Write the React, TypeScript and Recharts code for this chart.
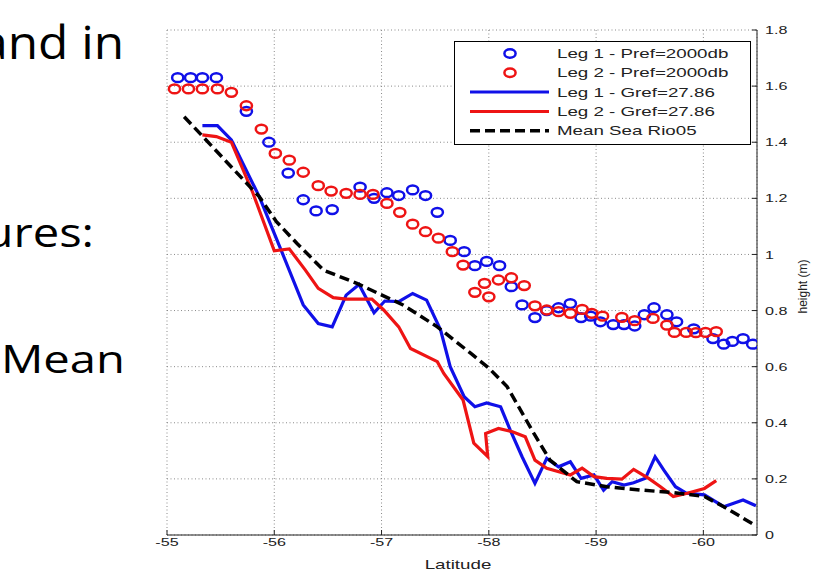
import React from 'react';
import { ComposedChart, Scatter, Line, XAxis, YAxis, CartesianGrid, Legend } from 'recharts';

const xTicks = [-55, -56, -57, -58, -59, -60];
const yTicks = [0, 0.2, 0.4, 0.6, 0.8, 1, 1.2, 1.4, 1.6, 1.8];

const leg1PrefLat = [-55.10, -55.22, -55.33, -55.46, -55.74, -55.95, -56.13, -56.27, -56.39, -56.54, -56.80, -56.93, -57.05, -57.16, -57.29, -57.41, -57.52, -57.64, -57.77, -57.87, -57.98, -58.10, -58.21, -58.31, -58.43, -58.54, -58.65, -58.76, -58.86, -58.95, -59.04, -59.16, -59.26, -59.36, -59.45, -59.54, -59.66, -59.75, -59.91, -60.09, -60.19, -60.27, -60.37, -60.46];
const leg1PrefHeight = [1.63, 1.63, 1.63, 1.63, 1.51, 1.40, 1.29, 1.195, 1.155, 1.16, 1.24, 1.20, 1.22, 1.21, 1.23, 1.21, 1.15, 1.05, 1.01, 0.96, 0.975, 0.96, 0.885, 0.82, 0.775, 0.80, 0.81, 0.825, 0.775, 0.78, 0.76, 0.75, 0.75, 0.745, 0.785, 0.81, 0.785, 0.76, 0.735, 0.70, 0.68, 0.69, 0.70, 0.68];

const leg2PrefLat = [-55.07, -55.20, -55.33, -55.47, -55.60, -55.74, -55.88, -56.01, -56.14, -56.27, -56.41, -56.53, -56.67, -56.80, -56.92, -57.05, -57.17, -57.29, -57.41, -57.53, -57.66, -57.76, -57.87, -57.96, -58.00, -58.09, -58.21, -58.33, -58.43, -58.54, -58.65, -58.76, -58.87, -58.96, -59.06, -59.24, -59.36, -59.53, -59.66, -59.73, -59.84, -59.93, -60.02, -60.12];
const leg2PrefHeight = [1.59, 1.59, 1.59, 1.59, 1.578, 1.53, 1.447, 1.36, 1.336, 1.293, 1.245, 1.226, 1.218, 1.214, 1.214, 1.182, 1.15, 1.108, 1.081, 1.058, 1.01, 0.962, 0.865, 0.897, 0.849, 0.909, 0.917, 0.889, 0.817, 0.802, 0.796, 0.79, 0.804, 0.79, 0.78, 0.776, 0.764, 0.772, 0.748, 0.722, 0.722, 0.721, 0.722, 0.725];

const leg1GrefLat = [-55.33, -55.47, -55.60, -55.86, -56.08, -56.27, -56.41, -56.54, -56.67, -56.79, -56.93, -57.03, -57.16, -57.29, -57.42, -57.55, -57.64, -57.77, -57.87, -57.98, -58.11, -58.20, -58.31, -58.43, -58.54, -58.65, -58.76, -58.86, -58.98, -59.07, -59.15, -59.26, -59.35, -59.46, -59.55, -59.63, -59.74, -59.84, -60.01, -60.19, -60.37, -60.49];
const leg1GrefHeight = [1.459, 1.459, 1.408, 1.206, 1.0, 0.82, 0.754, 0.742, 0.855, 0.893, 0.792, 0.834, 0.832, 0.861, 0.837, 0.731, 0.60, 0.493, 0.457, 0.471, 0.457, 0.374, 0.279, 0.184, 0.273, 0.243, 0.261, 0.202, 0.214, 0.16, 0.19, 0.178, 0.186, 0.202, 0.279, 0.232, 0.172, 0.149, 0.143, 0.101, 0.125, 0.104];

const leg2GrefLat = [-55.33, -55.46, -55.60, -55.80, -56.00, -56.14, -56.29, -56.41, -56.55, -56.67, -56.91, -57.02, -57.16, -57.27, -57.52, -57.58, -57.76, -57.86, -57.99, -57.97, -58.09, -58.22, -58.34, -58.43, -58.54, -58.76, -58.87, -58.98, -59.10, -59.24, -59.35, -59.49, -59.60, -59.72, -59.85, -60.01, -60.12];
const leg2GrefHeight = [1.426, 1.42, 1.40, 1.22, 1.013, 1.02, 0.944, 0.879, 0.846, 0.841, 0.841, 0.802, 0.742, 0.665, 0.618, 0.576, 0.481, 0.327, 0.279, 0.362, 0.380, 0.368, 0.350, 0.267, 0.238, 0.214, 0.238, 0.208, 0.202, 0.199, 0.234, 0.202, 0.172, 0.137, 0.149, 0.166, 0.194];

const meanSeaLat = [-55.16, -55.86, -56.02, -56.21, -56.46, -56.77, -57.20, -57.52, -57.83, -58.00, -58.17, -58.42, -58.57, -58.82, -59.10, -59.42, -59.73, -60.01, -60.19, -60.49];
const meanSeaHeight = [1.491, 1.206, 1.117, 1.04, 0.944, 0.897, 0.820, 0.742, 0.648, 0.595, 0.529, 0.362, 0.267, 0.19, 0.172, 0.160, 0.151, 0.137, 0.101, 0.033];

const legendLabels = ['Leg 1 - Pref=2000db', 'Leg 2 - Pref=2000db', 'Leg 1 - Gref=27.86', 'Leg 2 - Gref=27.86', 'Mean Sea Rio05'];
const slideLines = ['and in', 'ures:', 'Mean'];

const BLUE = '#1010e8';
const RED = '#ee1414';
const BLACK = '#000000';
const FONT = '"Liberation Sans", Arial, Helvetica, sans-serif';

const zip = (xs: number[], ys: number[]) => xs.map((x, i) => ({ x, y: ys[i] }));

const leg1Pref = zip(leg1PrefLat, leg1PrefHeight);
const leg2Pref = zip(leg2PrefLat, leg2PrefHeight);
const leg1Gref = zip(leg1GrefLat, leg1GrefHeight);
const leg2Gref = zip(leg2GrefLat, leg2GrefHeight);
const meanSea = zip(meanSeaLat, meanSeaHeight);

const legendItems = [
  { label: legendLabels[0], kind: 'circle', color: BLUE },
  { label: legendLabels[1], kind: 'circle', color: RED },
  { label: legendLabels[2], kind: 'line', color: BLUE },
  { label: legendLabels[3], kind: 'line', color: RED },
  { label: legendLabels[4], kind: 'dash', color: BLACK },
];

const ring = (color: string) => (props: any) => {
  const { cx, cy } = props;
  if (cx == null || cy == null) return <g />;
  return <ellipse cx={cx} cy={cy} rx={5.6} ry={4.4} fill="none" stroke={color} strokeWidth={2.5} />;
};

const XTick = (props: any) => {
  const { x, y, payload } = props;
  return (
    <text
      transform={`translate(${x},${y}) scale(1.4,1)`}
      textAnchor="middle"
      dy="0.71em"
      fontSize={11.5}
      fontFamily={FONT}
      fill="#222"
    >
      {String(payload.value)}
    </text>
  );
};

const YTick = (props: any) => {
  const { x, y, payload } = props;
  return (
    <text
      transform={`translate(${x},${y}) scale(1.4,1)`}
      textAnchor="start"
      dy="0.36em"
      fontSize={11.5}
      fontFamily={FONT}
      fill="#222"
    >
      {String(payload.value)}
    </text>
  );
};

const XLabel = (props: any) => {
  const vb = props.viewBox || { x: 167, y: 535, width: 590, height: 34 };
  return (
    <text
      transform={`translate(${vb.x + vb.width / 2 - 4},${vb.y + 34}) scale(1.5,1)`}
      textAnchor="middle"
      fontSize={12.5}
      fontFamily={FONT}
      fill="#222"
    >
      Latitude
    </text>
  );
};

const YLabel = (props: any) => {
  const vb = props.viewBox || { x: 757, y: 30, width: 58, height: 505 };
  const cx = vb.x + 46;
  const cy = vb.y + vb.height / 2 + 4;
  return (
    <text
      transform={`translate(${cx},${cy}) rotate(-90)`}
      textAnchor="middle"
      dy="0.35em"
      fontSize={12}
      fontFamily={FONT}
      fill="#222"
    >
      height (m)
    </text>
  );
};

const LegendBox = () => (
  <svg width={297} height={104} style={{ display: 'block', overflow: 'visible' }}>
    <rect x={0.5} y={0.5} width={296} height={103} fill="#fff" stroke="#000" strokeWidth={1} />
    {legendItems.map((it, i) => {
      const cy = 12.5 + i * 19.3;
      return (
        <g key={i}>
          {it.kind === 'circle' ? (
            <ellipse cx={56} cy={cy} rx={5.6} ry={4.2} fill="none" stroke={it.color} strokeWidth={2.5} />
          ) : (
            <line
              x1={16}
              x2={95}
              y1={cy}
              y2={cy}
              stroke={it.color}
              strokeWidth={it.kind === 'dash' ? 3.5 : 3}
              strokeDasharray={it.kind === 'dash' ? '10 5' : undefined}
            />
          )}
          <text
            transform={`translate(103,${cy}) scale(1.5,1)`}
            dy="0.36em"
            fontSize={12.5}
            fontFamily={FONT}
            fill="#222"
          >
            {it.label}
          </text>
        </g>
      );
    })}
  </svg>
);

export default function App() {
  return (
    <div style={{ position: 'absolute', left: 0, top: 0, width: 815, height: 569, background: '#fff', overflow: 'hidden' }}>
      <svg width={815} height={569} style={{ position: 'absolute', left: 0, top: 0 }}>
        <text transform="translate(124,59) scale(1.1,1)" textAnchor="end" fontSize={45} fontFamily='"Open Sans", sans-serif' fill="#000">{slideLines[0]}</text>
        <text transform="translate(94,247) scale(1.15,1)" textAnchor="end" fontSize={41} fontFamily='"Open Sans", sans-serif' fill="#000">{slideLines[1]}</text>
        <text transform="translate(125,373) scale(1.21,1)" textAnchor="end" fontSize={39} fontFamily='"Open Sans", sans-serif' fill="#000">{slideLines[2]}</text>
      </svg>
      <div style={{ position: 'absolute', left: 0, top: 0 }}>
        <ComposedChart width={815} height={569} margin={{ top: 30, right: 0, bottom: 0, left: 167 }}>
          <CartesianGrid stroke="#8a8a8a" strokeDasharray="1 2.5" strokeWidth={1} />
          <XAxis
            type="number"
            dataKey="x"
            domain={[-60.5, -55]}
            reversed
            ticks={xTicks}
            allowDataOverflow
            height={34}
            axisLine={{ stroke: '#222', strokeWidth: 1 }}
            tickLine={{ stroke: '#222', strokeWidth: 1 }}
            tickSize={-5}
            tickMargin={8}
            tick={<XTick />}
            interval={0}
            label={<XLabel />}
          />
          <YAxis
            type="number"
            dataKey="y"
            orientation="right"
            domain={[0, 1.8]}
            ticks={yTicks}
            allowDataOverflow
            width={58}
            axisLine={{ stroke: '#222', strokeWidth: 1 }}
            tickLine={{ stroke: '#222', strokeWidth: 1 }}
            tickSize={-5}
            tickMargin={13}
            tick={<YTick />}
            interval={0}
            label={<YLabel />}
          />
          <Legend
            layout="vertical"
            align="center"
            verticalAlign="middle"
            content={() => <LegendBox />}
            wrapperStyle={{ position: 'absolute', left: 454, top: 41, width: 297, height: 104 }}
          />
          <Scatter name={legendLabels[0]} data={leg1Pref} dataKey="y" shape={ring(BLUE)} isAnimationActive={false} />
          <Scatter name={legendLabels[1]} data={leg2Pref} dataKey="y" shape={ring(RED)} isAnimationActive={false} />
          <Line name={legendLabels[2]} data={leg1Gref} dataKey="y" type="linear" stroke={BLUE} strokeWidth={3.2} dot={false} activeDot={false} isAnimationActive={false} />
          <Line name={legendLabels[3]} data={leg2Gref} dataKey="y" type="linear" stroke={RED} strokeWidth={3.2} dot={false} activeDot={false} isAnimationActive={false} />
          <Line name={legendLabels[4]} data={meanSea} dataKey="y" type="linear" stroke={BLACK} strokeWidth={3.5} strokeDasharray="10 5" dot={false} activeDot={false} isAnimationActive={false} />
        </ComposedChart>
      </div>
    </div>
  );
}
